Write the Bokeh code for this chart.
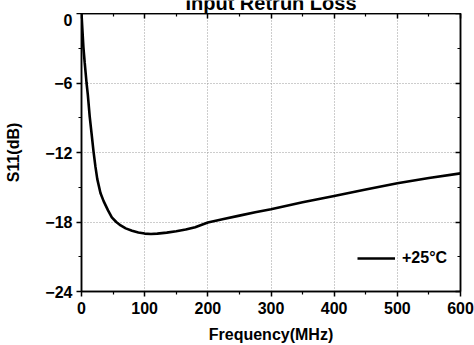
from bokeh.plotting import figure
from bokeh.layouts import column
from bokeh.models import (Range1d, FixedTicker, LinearAxis, Legend, LegendItem,
                          CustomJSTickFormatter)
from bokeh.core.properties import value
from bokeh.embed import file_html
from bokeh.resources import INLINE

# Measured input return loss at room temperature
freq_mhz = [0, 1, 3, 5, 8, 10, 13, 16, 19, 22, 25, 30, 35, 42, 48, 55, 62, 70, 80, 90,
            100, 110, 120, 135, 150, 165, 180, 200, 225, 250, 275, 300, 350, 400, 450,
            500, 550, 600]
s11_db = [0.0, -1.0, -2.9, -4.2, -6.0, -7.0, -8.9, -10.4, -11.9, -13.2, -14.3, -15.5,
          -16.2, -17.0, -17.6, -18.0, -18.3, -18.55, -18.75, -18.9, -19.0, -19.03, -19.0,
          -18.92, -18.8, -18.65, -18.45, -18.05, -17.75, -17.45, -17.15, -16.9, -16.3,
          -15.75, -15.2, -14.65, -14.2, -13.8]

x_major = [0, 100, 200, 300, 400, 500, 600]
x_minor = [50, 150, 250, 350, 450, 550]
y_major = [-24, -18, -12, -6, 0]
y_minor = [-21, -15, -9, -3]

title_text = "Input Retrun Loss"
legend_text = "+25°C"
FONT = "Liberation Sans"

W = 474
TITLE_H = 13
LEFT, RIGHT = 81, 14

x_range = Range1d(0, 600)

# --- title strip, sharing the x range so the text centres over the plot area
t = figure(width=W, height=TITLE_H, output_backend="svg", toolbar_location=None,
           title_location=None, x_axis_location=None, y_axis_location=None,
           x_range=x_range, y_range=Range1d(-TITLE_H, 0),
           min_border_left=LEFT, min_border_right=RIGHT, min_border_top=0,
           min_border_bottom=0)
t.grid.visible = False
t.outline_line_color = None
t.background_fill_color = "white"
t.border_fill_color = "white"
t.text(x=[300], y=[-2], text=[title_text], text_align="center",
       text_baseline="middle", text_font=value(FONT), text_font_style="bold",
       text_font_size="20px", text_color="black")

# --- main chart
p = figure(width=W, height=345 - TITLE_H, output_backend="svg", toolbar_location=None,
           title_location=None, x_range=x_range, y_range=Range1d(-24, 0),
           min_border_left=LEFT, min_border_right=RIGHT, min_border_top=0,
           min_border_bottom=54, x_axis_label="Frequency(MHz)", y_axis_label="S11(dB)")
p.background_fill_color = "white"
p.border_fill_color = "white"
p.outline_line_color = "black"
p.outline_line_width = 1.5

xt = FixedTicker(ticks=x_major, minor_ticks=x_minor)
yt = FixedTicker(ticks=y_major, minor_ticks=y_minor)

p.xaxis[0].ticker = xt
p.yaxis[0].ticker = yt

for g, tk in ((p.xgrid, xt), (p.ygrid, yt)):
    g.ticker = tk
    g.grid_line_color = "#9a9a9a"
    g.grid_line_dash = "1 2"
    g.grid_line_width = 1


def style_axis(ax, label_standoff, axis_label_standoff):
    ax.axis_line_color = "black"
    ax.axis_line_width = 1.5
    ax.major_tick_line_color = "black"
    ax.major_tick_line_width = 1.5
    ax.minor_tick_line_color = "black"
    ax.minor_tick_line_width = 1.2
    ax.major_tick_out = 5
    ax.major_tick_in = 0
    ax.minor_tick_out = 3
    ax.minor_tick_in = 0
    ax.major_label_text_font = FONT
    ax.major_label_text_font_style = "bold"
    ax.major_label_text_font_size = "16px"
    ax.major_label_text_color = "black"
    ax.major_label_standoff = label_standoff
    ax.axis_label_text_font = FONT
    ax.axis_label_text_font_style = "bold"
    ax.axis_label_text_font_size = "16px"
    ax.axis_label_text_color = "black"
    ax.axis_label_standoff = axis_label_standoff


style_axis(p.xaxis[0], 5, 9)
style_axis(p.yaxis[0], 4, 20)

# mirrored axes on top and right: inward ticks, blank labels
blank = CustomJSTickFormatter(code="return ''")
for ticker, side in ((xt, "above"), (yt, "right")):
    ax = LinearAxis(ticker=ticker, formatter=blank)
    ax.axis_line_color = "black"
    ax.axis_line_width = 1.5
    ax.major_tick_line_color = "black"
    ax.major_tick_line_width = 1.5
    ax.minor_tick_line_color = "black"
    ax.minor_tick_line_width = 1.2
    ax.major_tick_in = 5
    ax.major_tick_out = 0
    ax.minor_tick_in = 3
    ax.minor_tick_out = 0
    ax.major_label_text_font_size = "1px"
    ax.major_label_standoff = 0
    p.add_layout(ax, side)

line = p.line(freq_mhz, s11_db, line_color="black", line_width=2.6)

legend = Legend(items=[LegendItem(label=legend_text, renderers=[line])],
                location=(276, 23), padding=0, margin=0,
                glyph_width=38, glyph_height=20, label_height=20,
                label_standoff=7, border_line_color=None,
                background_fill_alpha=0)
legend.label_text_font = FONT
legend.label_text_font_style = "bold"
legend.label_text_font_size = "16px"
legend.label_text_color = "black"
p.add_layout(legend)

layout = column(t, p, spacing=0)
open("out.html", "w").write(file_html(layout, INLINE))
